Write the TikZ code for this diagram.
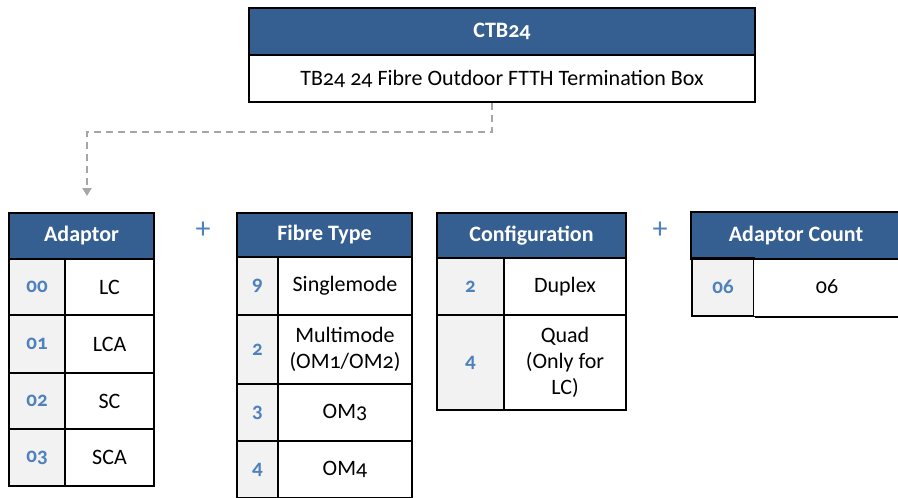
\documentclass[tikz,border=0pt]{standalone}
\usepackage{fontspec}
\setmainfont{Carlito}[Numbers=OldStyle]
\usepackage{tikz}
\usetikzlibrary{arrows.meta}
\definecolor{hdrblue}{HTML}{365F91}
\definecolor{codeblue}{HTML}{4F81BD}
\definecolor{codegray}{HTML}{F2F2F2}
\definecolor{linkgray}{HTML}{A6A6A6}
\tikzstyle{cell} = [draw=black, line width=2pt, inner sep=0pt, 
anchor=north west, align=center]
\tikzstyle{hdr} = [cell, fill=hdrblue, text=white, 
font=\fontsize{22}{26}\selectfont\bfseries]
\tikzstyle{code} = [cell, fill=codegray, text=codeblue, 
font=\fontsize{21}{24}\selectfont\bfseries]
\tikzstyle{desc} = [cell, fill=white, font=\fontsize{22}{26}\selectfont]
\tikzstyle{plus} = [text=codeblue, font=\fontsize{30}{30}\selectfont]
\tikzstyle{link} = [linkgray, line width=2pt, dash pattern=on 7pt off 5pt, 
-{Triangle[width=9pt,length=8pt]}]

\begin{document}
\begin{tikzpicture}[x=1pt, y=-1pt]
\useasboundingbox (0,0) rectangle (898,498);
% product code
\node[hdr, minimum width=506pt, minimum height=47pt] (ctb) at (248,7) {CTB24};
\node[desc, minimum width=506pt, minimum height=47pt] (ctbdesc) at (248,54) 
{TB24 24 Fibre Outdoor FTTH Termination Box};
% adaptor
\node[hdr, minimum width=145pt, minimum height=46pt] (adhdr) at (8,212) {Adaptor};
\foreach \y/\h/\c/\t [count=\i] in {258/56/00/LC, 314/58/01/LCA, 
372/56/02/SC, 428/57/03/SCA}
{
\node[code, minimum width=56pt, minimum height=\h pt] (adc\i) at (8,\y) {\c};
\node[desc, minimum width=89pt, minimum height=\h pt] (add\i) at (64,\y) {\t};
}
\node[plus] (plusa) at (203,230) {+};
% fibre type
\node[hdr, minimum width=175pt, minimum height=44pt] (fthdr) at (236,212) {Fibre Type};
\foreach \y/\h/\c/\t [count=\i] in {256/58/9/Singlemode, 
314/69/2/{Multimode\\(OM1/OM2)}, 383/57/3/OM3, 440/57/4/OM4}
{
\node[code, minimum width=41pt, minimum height=\h pt] (ftc\i) at (236,\y) {\c};
\node[desc, minimum width=134pt, minimum height=\h pt] (ftd\i) at (277,\y) {\t};
}
% configuration
\node[hdr, minimum width=189pt, minimum height=45pt] (cfhdr) at (436,212) {Configuration};
\foreach \y/\h/\c/\t [count=\i] in {257/57/2/Duplex, 
314/95/4/{Quad\\(Only for\\LC)}}
{
\node[code, minimum width=67pt, minimum height=\h pt] (cfc\i) at (436,\y) {\c};
\node[desc, minimum width=122pt, minimum height=\h pt] (cfd\i) at (503,\y) {\t};
}
\node[plus] (plusb) at (660,230) {+};
% adaptor count, open on the right
\node[hdr, draw=none, minimum width=208pt, minimum height=45pt] (achdr) at (691,212) {Adaptor Count};
\node[code, minimum width=62pt, minimum height=58pt] (acc) at (691,257) {06};
\node[desc, draw=none, minimum width=146pt, minimum height=58pt] (acd) at (753,257) {06};
\draw[line width=2pt] (achdr.north east) -- (achdr.north west) -- (achdr.south west) 
-- (achdr.south east);
\draw[line width=2pt] (acc.south east) -- (acd.south east);
% link
\coordinate (bend) at (492,132);
\coordinate (tip) at (87,196);
\draw[link] (ctbdesc.south -| bend) -- (bend) -| (tip);
\end{tikzpicture}
\end{document}
